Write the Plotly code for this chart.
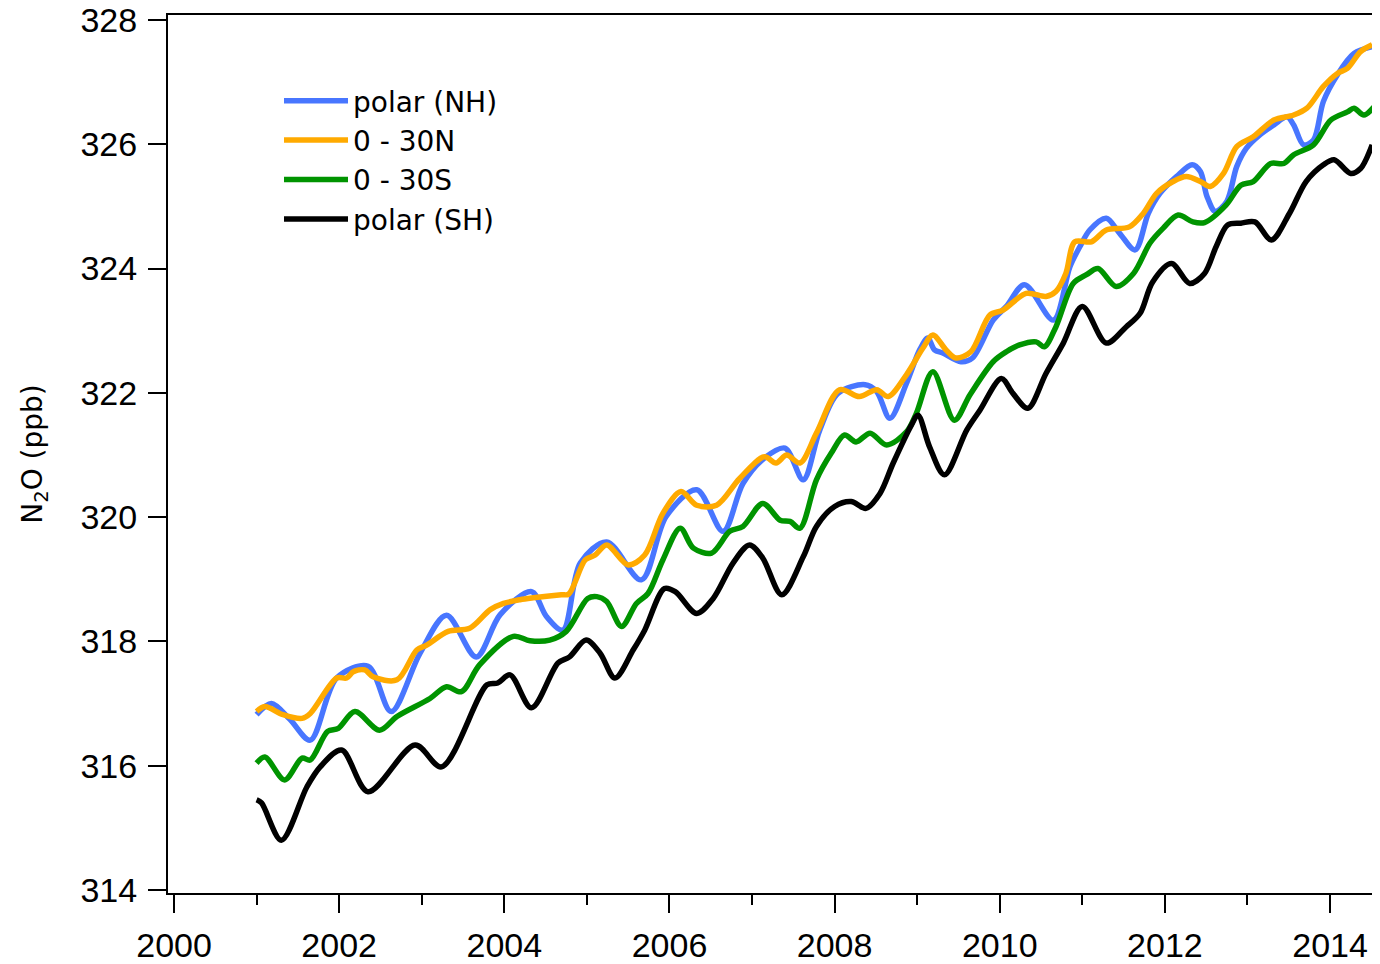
import plotly.graph_objects as go

# ---- data (decimal year, N2O ppb) ----
nh_year = [2001.00, 2001.18, 2001.40, 2001.65, 2001.97, 2002.35, 2002.63, 2002.98, 2003.30, 2003.66,
           2003.95, 2004.33, 2004.51, 2004.71, 2004.92, 2005.24, 2005.66, 2005.96, 2006.33, 2006.65,
           2006.89, 2007.15, 2007.40, 2007.62, 2007.82, 2008.04, 2008.37, 2008.51, 2008.67, 2008.87,
           2009.03, 2009.13, 2009.21, 2009.31, 2009.53, 2009.67, 2009.92, 2010.08, 2010.30, 2010.65,
           2010.85, 2010.97, 2011.09, 2011.29, 2011.45, 2011.64, 2011.80, 2011.94, 2012.14, 2012.33,
           2012.43, 2012.51, 2012.61, 2012.75, 2012.87, 2012.99, 2013.15, 2013.32, 2013.48, 2013.56,
           2013.68, 2013.80, 2013.92, 2014.09, 2014.29, 2014.51]
nh_val = [316.82, 317.00, 316.75, 316.41, 317.41, 317.60, 316.87, 317.81, 318.42, 317.75,
          318.43, 318.80, 318.40, 318.18, 319.26, 319.60, 318.99, 320.01, 320.44, 319.77,
          320.54, 320.95, 321.11, 320.60, 321.40, 321.99, 322.13, 322.02, 321.59, 322.15,
          322.69, 322.88, 322.69, 322.64, 322.50, 322.56, 323.17, 323.39, 323.74, 323.17,
          324.03, 324.35, 324.62, 324.81, 324.57, 324.30, 324.89, 325.21, 325.48, 325.67,
          325.56, 325.16, 324.92, 325.08, 325.64, 325.94, 326.15, 326.31, 326.44, 326.31,
          325.99, 326.07, 326.69, 327.12, 327.46, 327.57]

n30_year = [2001.00, 2001.10, 2001.32, 2001.55, 2001.65, 2001.97, 2002.09, 2002.17, 2002.31, 2002.41,
            2002.70, 2002.94, 2003.06, 2003.32, 2003.58, 2003.83, 2003.99, 2004.19, 2004.35, 2004.69,
            2004.78, 2004.98, 2005.10, 2005.24, 2005.50, 2005.70, 2005.92, 2006.14, 2006.33, 2006.57,
            2006.85, 2007.15, 2007.29, 2007.42, 2007.58, 2007.78, 2008.06, 2008.30, 2008.51, 2008.65,
            2008.87, 2009.07, 2009.19, 2009.35, 2009.47, 2009.65, 2009.88, 2010.04, 2010.32, 2010.56,
            2010.68, 2010.80, 2010.91, 2011.11, 2011.29, 2011.57, 2011.74, 2011.90, 2012.10, 2012.26,
            2012.43, 2012.55, 2012.71, 2012.87, 2013.07, 2013.32, 2013.56, 2013.72, 2013.92, 2014.09,
            2014.21, 2014.37, 2014.51]
n30_val = [316.87, 316.95, 316.82, 316.76, 316.84, 317.41, 317.41, 317.51, 317.54, 317.43,
           317.38, 317.86, 317.94, 318.16, 318.21, 318.51, 318.61, 318.67, 318.70, 318.75,
           318.76, 319.31, 319.39, 319.55, 319.23, 319.39, 320.06, 320.41, 320.19, 320.19,
           320.62, 320.97, 320.87, 321.00, 320.87, 321.35, 322.05, 321.94, 322.05, 321.94,
           322.29, 322.72, 322.93, 322.69, 322.56, 322.66, 323.25, 323.33, 323.60, 323.55,
           323.63, 323.92, 324.43, 324.43, 324.62, 324.67, 324.89, 325.21, 325.40, 325.48,
           325.40, 325.32, 325.53, 325.96, 326.12, 326.39, 326.47, 326.58, 326.93, 327.14,
           327.22, 327.49, 327.60]

s30_year = [2001.00, 2001.10, 2001.34, 2001.55, 2001.65, 2001.86, 2001.99, 2002.19, 2002.49, 2002.70,
            2003.10, 2003.30, 2003.48, 2003.70, 2004.11, 2004.31, 2004.55, 2004.75, 2005.01, 2005.12,
            2005.24, 2005.42, 2005.60, 2005.74, 2005.92, 2006.13, 2006.29, 2006.51, 2006.73, 2006.89,
            2007.13, 2007.34, 2007.46, 2007.58, 2007.78, 2007.96, 2008.12, 2008.26, 2008.43, 2008.63,
            2008.87, 2008.99, 2009.19, 2009.45, 2009.64, 2009.92, 2010.08, 2010.24, 2010.44, 2010.54,
            2010.68, 2010.89, 2011.05, 2011.19, 2011.41, 2011.62, 2011.82, 2011.98, 2012.16, 2012.34,
            2012.48, 2012.74, 2012.92, 2013.07, 2013.28, 2013.44, 2013.56, 2013.80, 2014.01, 2014.21,
            2014.29, 2014.41, 2014.53]
s30_val = [316.04, 316.14, 315.77, 316.12, 316.09, 316.55, 316.60, 316.87, 316.57, 316.79,
           317.08, 317.27, 317.19, 317.62, 318.08, 318.01, 318.02, 318.16, 318.69, 318.72,
           318.64, 318.24, 318.61, 318.77, 319.31, 319.82, 319.50, 319.42, 319.77, 319.85,
           320.22, 319.95, 319.93, 319.82, 320.60, 321.03, 321.32, 321.21, 321.35, 321.16,
           321.37, 321.67, 322.34, 321.56, 321.97, 322.50, 322.66, 322.77, 322.82, 322.74,
           323.06, 323.76, 323.90, 324.00, 323.71, 323.92, 324.41, 324.65, 324.86, 324.75,
           324.74, 325.02, 325.34, 325.40, 325.69, 325.69, 325.83, 325.99, 326.39, 326.52,
           326.58, 326.47, 326.60]

sh_year = [2001.00, 2001.06, 2001.30, 2001.61, 2001.77, 2002.03, 2002.35, 2002.92, 2003.24, 2003.79,
           2003.92, 2004.07, 2004.33, 2004.65, 2004.79, 2004.99, 2005.16, 2005.34, 2005.56, 2005.70,
           2005.94, 2006.07, 2006.33, 2006.53, 2006.77, 2006.97, 2007.13, 2007.36, 2007.62, 2007.78,
           2008.00, 2008.20, 2008.38, 2008.55, 2008.71, 2008.93, 2009.01, 2009.15, 2009.33, 2009.60,
           2009.76, 2010.02, 2010.16, 2010.34, 2010.56, 2010.77, 2011.00, 2011.29, 2011.53, 2011.70,
           2011.85, 2012.08, 2012.30, 2012.48, 2012.62, 2012.76, 2012.92, 2013.09, 2013.29, 2013.51,
           2013.71, 2013.92, 2014.05, 2014.25, 2014.37, 2014.51]
sh_val = [315.45, 315.40, 314.80, 315.66, 315.98, 316.25, 315.58, 316.33, 315.98, 317.30,
          317.33, 317.46, 316.93, 317.65, 317.75, 318.02, 317.81, 317.41, 317.86, 318.18,
          318.85, 318.80, 318.45, 318.69, 319.26, 319.55, 319.34, 318.75, 319.36, 319.85,
          320.17, 320.25, 320.14, 320.38, 320.87, 321.48, 321.64, 321.13, 320.68, 321.40,
          321.72, 322.23, 321.99, 321.75, 322.31, 322.80, 323.39, 322.80, 323.06, 323.28,
          323.78, 324.08, 323.76, 323.92, 324.35, 324.70, 324.73, 324.75, 324.46, 324.89,
          325.40, 325.67, 325.75, 325.53, 325.61, 325.99]

series = [
    ("polar (NH)", nh_year, nh_val, "#4876FF"),
    ("0 - 30N", n30_year, n30_val, "#FFAA00"),
    ("0 - 30S", s30_year, s30_val, "#009400"),
    ("polar (SH)", sh_year, sh_val, "#000000"),
]

x_ticks = [2000, 2002, 2004, 2006, 2008, 2010, 2012, 2014]
y_ticks = [314, 316, 318, 320, 322, 324, 326, 328]

FONT = "Liberation Sans"
LEG_FONT = "DejaVu Sans"

# the page body has an 8px margin, so the figure is 8px smaller on each axis
W, H = 1372, 956
L, R, T, B = 160, 2, 7, 71

fig = go.Figure()
for name, xs, ys, col in series:
    fig.add_trace(go.Scatter(
        x=xs, y=ys, name=name, mode="lines",
        line=dict(color=col, width=5.5, shape="spline", smoothing=0.9),
    ))

fig.update_layout(
    width=W, height=H,
    margin=dict(l=L, r=R, t=T, b=B, autoexpand=False),
    paper_bgcolor="white", plot_bgcolor="white",
    font=dict(family=FONT, size=30, color="black"),
    showlegend=True,
    legend=dict(
        x=(279 - 8 - L) / 1210, y=1 - (76 - 8 - T) / 878,
        xanchor="left", yanchor="top",
        font=dict(family=LEG_FONT, size=28, color="black"),
        itemwidth=64, bgcolor="rgba(0,0,0,0)", borderwidth=0,
    ),
    xaxis=dict(
        range=[1999.927, 2014.581], automargin=False,
        tickmode="array", tickvals=x_ticks, ticktext=[str(v) for v in x_ticks],
        ticks="outside", ticklen=18, tickwidth=2, tickcolor="black",
        minor=dict(dtick=1, tick0=2001, ticks="outside", ticklen=10, tickwidth=2, tickcolor="black"),
        showline=True, linewidth=2, linecolor="black", mirror=True,
        showgrid=False, zeroline=False,
        tickfont=dict(family=FONT, size=34, color="black"),
        ticklabelstandoff=3, ticklabeloverflow="allow",
    ),
    yaxis=dict(
        range=[313.95, 328.08], automargin=False,
        tickmode="array", tickvals=y_ticks, ticktext=[str(v) for v in y_ticks],
        ticks="outside", ticklen=18, tickwidth=2, tickcolor="black",
        showline=True, linewidth=2, linecolor="black", mirror=True,
        showgrid=False, zeroline=False,
        tickfont=dict(family=FONT, size=34, color="black"),
        ticklabelstandoff=4, ticklabeloverflow="allow",
        title=dict(text="N<sub>2</sub>O (ppb)", font=dict(family=LEG_FONT, size=28, color="black"), standoff=30),
    ),
)

fig.write_html("out.html")
